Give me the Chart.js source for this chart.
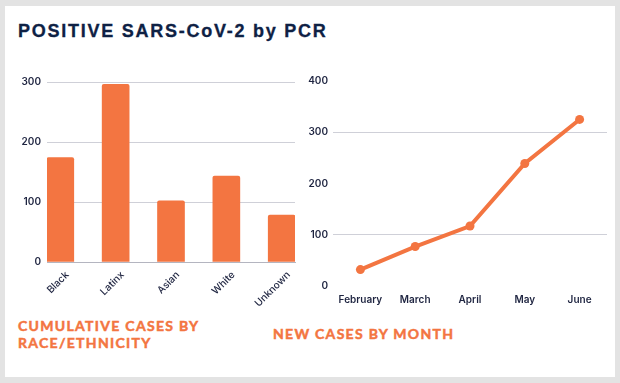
<!DOCTYPE html>
<html><head><meta charset="utf-8">
<script src="https://cdn.jsdelivr.net/npm/chart.js@4/dist/chart.umd.min.js"></script>
<style>
html,body{margin:0;padding:0;background:#e3e3e3;width:620px;height:383px;overflow:hidden;}
#card{position:absolute;left:5px;top:6px;width:610px;height:371px;background:#fff;}
#title{position:absolute;left:18px;top:21px;font:bold 18px "Liberation Sans",Arial,sans-serif;letter-spacing:1.75px;color:#0e2144;white-space:nowrap;-webkit-text-stroke:0.3px #0e2144;}
.sub{position:absolute;font:bold 14px Lato,sans-serif;letter-spacing:1.3px;color:#f37541;line-height:17px;white-space:nowrap;-webkit-text-stroke:0.5px #f37541;}
#s1{left:18px;top:317px;}
#s2{left:273px;top:325px;}
#c1{position:absolute;left:10px;top:70px;}
#c2{position:absolute;left:300px;top:70px;}
</style></head>
<body>
<div id="card"></div>
<div id="title">POSITIVE SARS-CoV-2 by PCR</div>
<div class="sub" id="s1">CUMULATIVE CASES BY<br>RACE/ETHNICITY</div>
<div class="sub" id="s2">NEW CASES BY MONTH</div>
<canvas id="c1" width="290" height="240"></canvas>
<canvas id="c2" width="315" height="245"></canvas>
<script>
const raceCategories = ["Black", "Latinx", "Asian", "White", "Unknown"];
const raceCases = [174, 296, 102, 143, 78];
const raceTicks = [0, 100, 200, 300];
const months = ["February", "March", "April", "May", "June"];
const monthCases = [32, 77, 117, 239, 325];
const monthTicks = [0, 100, 200, 300, 400];

const ORANGE = "#f37541";
const TEXT = "#1e2440";
const GRID = "#cfd0d8";
const tickFont = {family: "Inter, sans-serif", size: 10, weight: "600"};

new Chart(document.getElementById("c1"), {
  type: "bar",
  data: {
    datasets: [{
      data: raceCases.map((v, i) => ({x: i, y: v})),
      backgroundColor: ORANGE,
      barThickness: 27,
      borderRadius: {topLeft: 2, topRight: 2},
      borderSkipped: "bottom"
    }]
  },
  options: {
    responsive: false, animation: false,
    layout: {padding: {top: 10, right: 5, left: 0, bottom: 0}},
    plugins: {legend: {display: false}, tooltip: {enabled: false}},
    scales: {
      x: {
        type: "linear", min: -0.24, max: 4.24, offset: false,
        afterBuildTicks: s => { s.ticks = raceCategories.map((c, i) => ({value: i})); },
        afterFit: s => { s.height = 48; },
        grid: {display: false, drawTicks: false, offset: false},
        border: {display: true, color: "#b4b5c0", width: 1},
        ticks: {
          minRotation: 45, maxRotation: 45, autoSkip: false,
          color: TEXT, font: {family: "Inter, sans-serif", size: 10, weight: "500"},
          padding: 7, labelOffset: 7,
          callback: v => raceCategories[v]
        }
      },
      y: {
        min: 0, max: 300,
        afterBuildTicks: s => { s.ticks = raceTicks.map(v => ({value: v})); },
        afterFit: s => { s.width = 37; },
        grid: {color: c => c.tick.value === 0 ? "rgba(0,0,0,0)" : GRID, drawTicks: false},
        border: {display: false},
        ticks: {color: TEXT, font: tickFont, padding: 6}
      }
    }
  }
});

new Chart(document.getElementById("c2"), {
  type: "line",
  data: {
    labels: months,
    datasets: [{
      data: monthCases,
      borderColor: ORANGE, backgroundColor: ORANGE,
      borderWidth: 4, pointRadius: 4.5, pointBorderWidth: 0,
      tension: 0
    }]
  },
  options: {
    responsive: false, animation: false,
    layout: {padding: {top: 10, right: 8, left: 0, bottom: 0}},
    plugins: {legend: {display: false}, tooltip: {enabled: false}},
    scales: {
      x: {
        offset: true,
        afterFit: s => { s.height = 29; },
        grid: {display: false, drawTicks: false},
        border: {display: false},
        ticks: {color: TEXT, font: tickFont, padding: 8, maxRotation: 0}
      },
      y: {
        min: 0, max: 400,
        afterBuildTicks: s => { s.ticks = monthTicks.map(v => ({value: v})); },
        afterFit: s => { s.width = 33; },
        grid: {color: c => (c.tick.value === 100 || c.tick.value === 300) ? GRID : "rgba(0,0,0,0)", drawTicks: false},
        border: {display: false},
        ticks: {color: TEXT, font: tickFont, padding: 5}
      }
    }
  }
});
</script>
</body></html>
